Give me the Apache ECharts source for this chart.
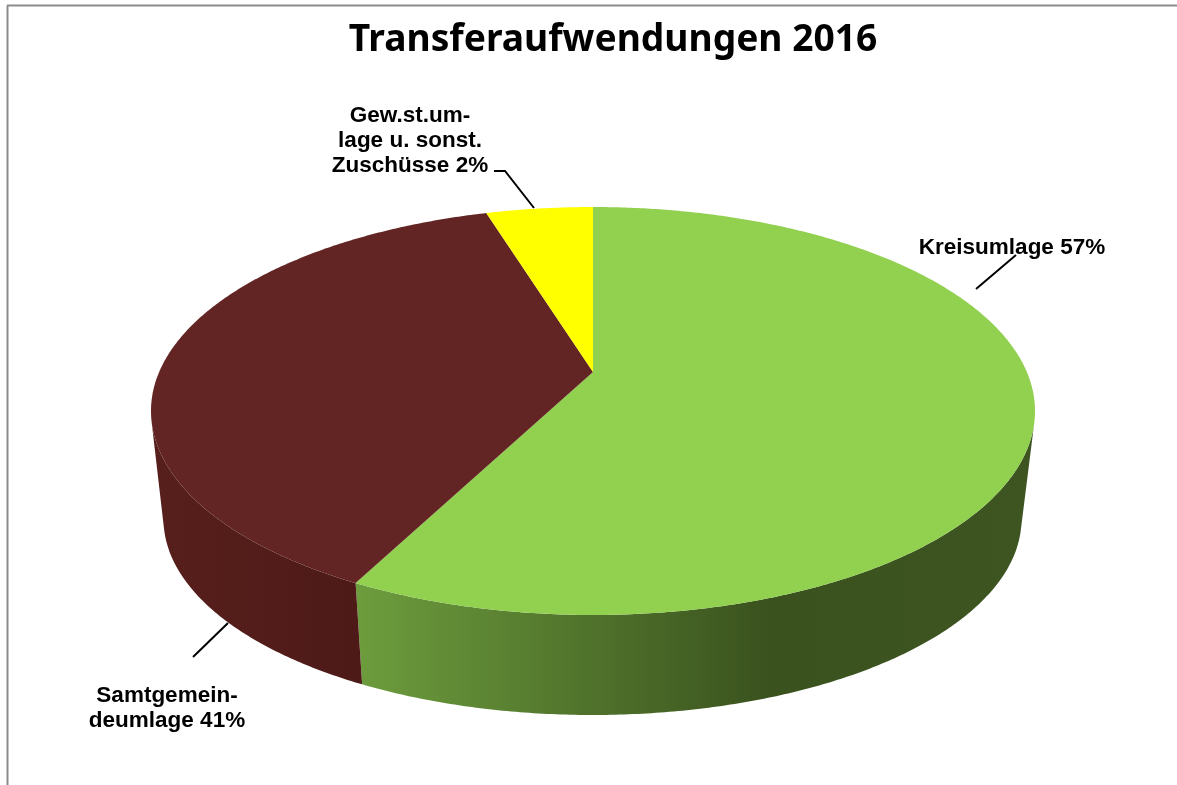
<!DOCTYPE html>
<html><head><meta charset="utf-8">
<style>html,body{margin:0;padding:0;background:#fff}#c{width:1177px;height:785px}</style>
<script src="https://cdn.jsdelivr.net/npm/echarts@6/dist/echarts.min.js"></script>
</head><body><div id="c"></div>
<script>
const chartTitle = 'Transferaufwendungen 2016';
const categories = ['Kreisumlage', 'Samtgemeindeumlage', 'Gew.st.umlage u. sonst. Zuschüsse'];
const printedLabels = ['Kreisumlage 57%', 'Samtgemein-\ndeumlage 41%', 'Gew.st.um-\nlage u. sonst.\nZuschüsse 2%'];
const sliceShares = [57.5, 37.8, 4.7];   // slice sizes as drawn in the picture

const topColors = ['#92d050', '#632523', '#ffff00'];
const wallStops = [
  [[355, '#6d9d3d'], [770, '#3a521e'], [1035, '#3e5522']],
  [[160, '#571f1c'], [361, '#4d1a18']],
  [[480, '#999900'], [600, '#999900']]
];
const topFace = {cx: 593, cy: 411, rx: 442, ry: 204};
const baseFace = {cx: 592.5, cy: 519, rx: 429, ry: 196};
const tilt = -0.191;  // how far the apex sits above the ellipse centre

const labelLayout = [
  {x: 1012, y: 248},
  {x: 167, y: 708},
  {x: 410, y: 141}
];
const leaderLines = [
  [[976, 289], [1016, 255]],
  [[193, 657], [228, 623]],
  [[494, 171], [505, 171], [534, 208]]
];

const total = sliceShares.reduce((a, b) => a + b, 0);
function project(face, t) {
  const s = Math.sin(t), w = -Math.cos(t), d = 1 + tilt * w;
  return [face.cx + face.rx * Math.sqrt(1 - tilt * tilt) * s / d,
          face.cy + face.ry * (w + tilt) / d];
}
function apex(face) { return [face.cx, face.cy + face.ry * tilt]; }
function sliceRange(i) {
  let acc = 0;
  for (let k = 0; k < i; k++) acc += sliceShares[k];
  return [acc / total * 2 * Math.PI, (acc + sliceShares[i]) / total * 2 * Math.PI];
}
function isFront(t) {
  const e = 0.001, p = project(topFace, t), p2 = project(topFace, t + e), q = project(baseFace, t);
  return (p2[0] - p[0]) * (q[1] - p[1]) - (p2[1] - p[1]) * (q[0] - p[0]) < 0;
}
const STEP = Math.PI / 360;
function angles(a, b) {
  const out = [];
  const n = Math.ceil((b - a) / STEP);
  for (let k = 0; k <= n; k++) out.push(a + (b - a) * k / n);
  return out;
}

function renderTop(params, api) {
  const r = sliceRange(api.value(0));
  const pts = [apex(topFace)].concat(angles(r[0], r[1]).map(t => project(topFace, t)));
  return {type: 'polygon', shape: {points: pts}, style: {fill: topColors[api.value(0)]}};
}
function renderWall(params, api) {
  const i = api.value(0), r = sliceRange(i);
  const ts = angles(r[0], r[1]).filter(isFront);
  if (ts.length < 2) return {type: 'group', children: []};
  const pts = ts.map(t => project(topFace, t)).concat(ts.slice().reverse().map(t => project(baseFace, t)));
  const st = wallStops[i], x0 = st[0][0], x1 = st[st.length - 1][0];
  return {type: 'polygon', shape: {points: pts}, style: {fill: {
    type: 'linear', x: x0, y: 0, x2: x1, y2: 0, global: true,
    colorStops: st.map(c => ({offset: (c[0] - x0) / (x1 - x0), color: c[1]}))
  }}};
}

const sliceRows = categories.map((c, i) => ({name: c, value: [i, sliceShares[i]]}));
const graphics = [
  {type: 'line', shape: {x1: 7.5, y1: 5.5, x2: 7.5, y2: 785}, style: {stroke: '#8c8c8c', lineWidth: 2}, silent: true},
  {type: 'line', shape: {x1: 7, y1: 5.5, x2: 1177, y2: 5.5}, style: {stroke: '#8c8c8c', lineWidth: 2}, silent: true}
];
leaderLines.forEach(p => graphics.push({type: 'polyline', z: 5, shape: {points: p},
  style: {stroke: '#000', lineWidth: 2, fill: null}, silent: true}));
printedLabels.forEach((t, i) => graphics.push({type: 'text', z: 6, x: labelLayout[i].x, y: labelLayout[i].y,
  style: {text: t, align: 'center', verticalAlign: 'middle', fill: '#000',
    font: 'bold 22.5px "Liberation Sans", Arial, sans-serif', lineHeight: 25}}));

const chart = echarts.init(document.getElementById('c'), null, {renderer: 'canvas'});
chart.setOption({
  animation: false,
  backgroundColor: '#fff',
  title: {text: chartTitle, left: 608, top: 35, textAlign: 'center', textVerticalAlign: 'middle',
    textStyle: {fontFamily: '"Noto Sans", "Open Sans", sans-serif', fontWeight: 'bold', fontSize: 37.2, color: '#000'}},
  series: [
    {type: 'custom', coordinateSystem: 'none', z: 1, renderItem: renderWall, data: sliceRows, silent: true},
    {type: 'custom', coordinateSystem: 'none', z: 2, renderItem: renderTop, data: sliceRows, silent: true}
  ],
  graphic: graphics
});
</script></body></html>
